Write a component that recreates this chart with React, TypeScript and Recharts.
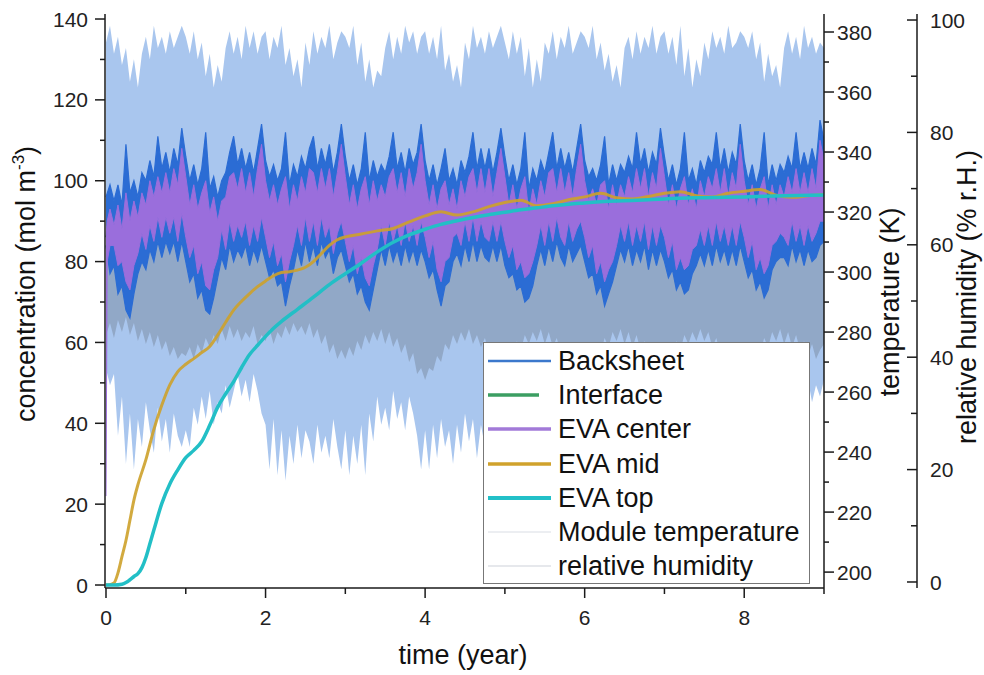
import { ComposedChart, Area, Line, XAxis, YAxis, Legend, Label } from "recharts";

const FONT = '"Liberation Sans", Arial, Helvetica, sans-serif';
const INK = "#1a1a1a";

// time grid, 0.05 year
const T = Array.from({ length: 181 }, (_, i) => Math.round(i * 5) / 100);

// Backsheet concentration band (mol m-3), low / high per time step
const BS_HI = [
  96, 99, 95, 99, 94, 109, 97, 100, 96, 102, 100, 105, 101, 111, 103, 107, 102, 108, 104, 113,
  106, 100, 104, 99, 103, 112, 98, 101, 96, 100, 102, 107, 111, 104, 108, 103, 107, 102, 108, 114,
  105, 101, 104, 100, 103, 112, 99, 104, 101, 106, 103, 108, 111, 103, 108, 104, 109, 102, 107, 114,
  106, 100, 104, 99, 103, 112, 100, 105, 101, 104, 102, 106, 112, 103, 107, 102, 108, 104, 107, 114,
  105, 100, 104, 99, 103, 108, 100, 103, 99, 105, 102, 106, 112, 103, 108, 103, 108, 102, 107, 113,
  106, 100, 104, 99, 103, 112, 98, 103, 100, 105, 102, 107, 112, 103, 108, 103, 107, 102, 108, 114,
  105, 101, 103, 100, 104, 111, 99, 104, 100, 104, 102, 106, 103, 112, 104, 108, 102, 107, 104, 113,
  106, 100, 104, 99, 103, 112, 100, 103, 99, 105, 102, 106, 104, 112, 103, 108, 102, 107, 104, 114,
  105, 100, 104, 99, 103, 112, 99, 104, 100, 104, 102, 106, 103, 112, 103, 107, 103, 108, 104, 115,
  110,
];
const BS_LO = [
  84, 77, 79, 72, 74, 68, 66, 72, 77, 80, 78, 83, 80, 85, 81, 85, 82, 85, 80, 85,
  80, 75, 77, 71, 73, 68, 67, 71, 76, 81, 78, 84, 80, 83, 81, 84, 79, 83, 80, 84,
  80, 76, 78, 74, 75, 69, 74, 78, 83, 79, 85, 80, 84, 79, 85, 81, 83, 77, 81, 83,
  79, 75, 77, 72, 74, 70, 68, 73, 78, 83, 79, 84, 80, 83, 79, 84, 80, 83, 79, 83,
  80, 76, 78, 73, 69, 74, 75, 80, 82, 79, 84, 80, 85, 80, 84, 81, 80, 84, 80, 84,
  79, 76, 77, 73, 74, 70, 71, 74, 79, 83, 79, 84, 80, 85, 81, 79, 84, 80, 82, 84,
  80, 76, 77, 72, 74, 69, 72, 75, 79, 83, 80, 84, 79, 83, 80, 84, 78, 83, 79, 83,
  80, 76, 78, 73, 75, 72, 73, 77, 79, 82, 79, 83, 79, 84, 80, 83, 79, 83, 79, 84,
  80, 76, 78, 73, 75, 71, 73, 78, 80, 81, 81, 79, 84, 80, 83, 79, 83, 80, 81, 84,
  85,
];

// EVA center band
const CT_HI = [
  86, 93, 89, 94, 88, 97, 90, 95, 91, 97, 94, 100, 96, 101, 97, 102, 97, 103, 99, 108,
  101, 94, 99, 93, 97, 100, 92, 96, 90, 95, 96, 101, 102, 98, 103, 97, 102, 96, 103, 109,
  100, 95, 99, 94, 98, 101, 93, 99, 95, 101, 97, 103, 102, 97, 103, 98, 103, 96, 102, 109,
  101, 94, 99, 93, 98, 101, 94, 100, 95, 99, 96, 101, 103, 97, 102, 96, 103, 98, 102, 109,
  100, 94, 99, 93, 98, 100, 94, 98, 93, 100, 96, 101, 103, 97, 103, 97, 103, 96, 102, 108,
  101, 94, 99, 93, 98, 101, 92, 98, 94, 100, 96, 102, 103, 97, 103, 97, 102, 96, 103, 109,
  100, 95, 98, 94, 99, 100, 93, 99, 94, 99, 96, 101, 97, 103, 98, 103, 96, 102, 98, 108,
  101, 94, 99, 93, 98, 101, 94, 98, 93, 100, 96, 101, 98, 103, 97, 103, 96, 102, 98, 109,
  100, 94, 99, 93, 98, 101, 93, 99, 94, 99, 96, 101, 97, 103, 97, 102, 97, 103, 98, 110,
  105,
];
const CT_LO = [
  22, 84, 84, 79, 80, 75, 73, 79, 82, 87, 83, 89, 85, 91, 86, 91, 87, 91, 85, 92,
  86, 81, 84, 77, 80, 74, 73, 78, 81, 88, 83, 90, 85, 89, 86, 90, 84, 89, 85, 91,
  86, 81, 85, 79, 82, 75, 80, 84, 89, 84, 91, 85, 90, 84, 91, 86, 89, 82, 87, 90,
  85, 80, 84, 77, 81, 76, 74, 79, 83, 89, 84, 90, 85, 89, 84, 90, 85, 89, 84, 90,
  86, 81, 85, 78, 75, 80, 81, 86, 87, 84, 90, 85, 91, 85, 90, 86, 85, 90, 85, 90,
  85, 81, 84, 78, 80, 76, 77, 80, 84, 89, 84, 90, 85, 91, 86, 84, 90, 85, 88, 90,
  86, 81, 84, 77, 80, 75, 78, 80, 84, 89, 85, 90, 84, 89, 85, 90, 83, 89, 84, 89,
  86, 81, 85, 78, 81, 78, 79, 83, 84, 88, 84, 89, 84, 90, 85, 89, 84, 89, 84, 90,
  86, 81, 85, 78, 81, 77, 79, 84, 85, 87, 86, 84, 90, 85, 89, 84, 89, 85, 87, 90,
  90,
];
// extra early point of the center curve (fast initial rise)
const CT_START = { t: 0.015, lo: 80, hi: 90 };

// relative humidity band (%)
const RH_HI = [
  96, 99, 94, 97, 92, 95, 89, 93, 88, 94, 97, 93, 99, 95, 97, 94, 98, 95, 97, 99,
  97, 94, 98, 93, 96, 90, 94, 88, 92, 89, 95, 98, 94, 97, 93, 99, 95, 98, 94, 97,
  98, 93, 97, 95, 99, 92, 95, 90, 93, 88, 96, 92, 98, 94, 97, 95, 99, 93, 96, 98,
  97, 95, 99, 92, 96, 89, 93, 88, 91, 90, 95, 98, 93, 97, 94, 99, 96, 98, 94, 97,
  98, 94, 97, 93, 99, 91, 94, 89, 92, 88, 96, 93, 99, 95, 97, 94, 98, 95, 97, 99,
  96, 93, 98, 94, 97, 90, 95, 88, 93, 89, 96, 94, 98, 93, 97, 95, 99, 94, 96, 98,
  97, 95, 99, 93, 96, 91, 94, 89, 92, 88, 95, 97, 93, 98, 94, 97, 95, 99, 94, 97,
  98, 94, 97, 92, 99, 90, 95, 88, 93, 90, 96, 93, 98, 95, 97, 94, 99, 95, 96, 98,
  97, 95, 98, 93, 96, 89, 94, 90, 92, 88, 95, 98, 94, 97, 93, 99, 95, 97, 94, 96,
  95,
];
const RH_LO = [
  38, 35, 37, 26, 33, 21, 30, 20, 29, 24, 32, 27, 23, 31, 25, 29, 23, 30, 26, 24,
  27, 24, 31, 28, 33, 29, 34, 28, 32, 30, 35, 31, 34, 37, 33, 36, 32, 37, 34, 30,
  28, 20, 29, 19, 27, 18, 26, 21, 28, 22, 27, 25, 21, 28, 23, 26, 22, 29, 24, 20,
  27, 19, 26, 21, 28, 19, 30, 25, 33, 28, 31, 27, 34, 29, 32, 27, 33, 30, 26, 20,
  27, 20, 28, 22, 29, 24, 27, 21, 28, 23, 30, 25, 29, 22, 28, 24, 30, 26, 25, 22,
  28, 21, 29, 20, 27, 23, 31, 26, 33, 28, 32, 27, 34, 29, 31, 26, 33, 28, 27, 22,
  27, 22, 28, 19, 26, 21, 29, 24, 32, 27, 31, 26, 33, 28, 30, 25, 32, 29, 26, 21,
  28, 21, 27, 20, 29, 22, 30, 25, 32, 28, 33, 27, 31, 29, 34, 26, 32, 28, 27, 23,
  27, 22, 29, 21, 28, 23, 31, 27, 33, 29, 32, 28, 34, 30, 33, 31, 36, 32, 35, 33,
  36,
];

// module temperature band (K)
const TEMP_HI = [
  320, 318, 321, 317, 320, 316, 319, 317, 321, 319, 323, 320, 324, 321, 325, 322, 326, 323, 327, 334,
  322, 317, 320, 316, 319, 315, 318, 316, 320, 318, 322, 319, 323, 320, 324, 321, 325, 322, 326, 335,
  321, 318, 320, 317, 320, 316, 319, 316, 321, 318, 323, 320, 324, 320, 325, 322, 326, 323, 327, 334,
  322, 317, 321, 316, 319, 315, 318, 317, 320, 319, 322, 320, 323, 321, 324, 322, 325, 322, 326, 335,
  321, 318, 320, 316, 320, 316, 319, 316, 321, 318, 322, 319, 324, 320, 325, 321, 326, 323, 327, 334,
  322, 317, 321, 317, 319, 315, 318, 317, 320, 318, 323, 320, 323, 321, 324, 322, 325, 322, 326, 335,
  321, 318, 320, 316, 320, 316, 319, 316, 321, 319, 322, 320, 324, 320, 325, 321, 326, 323, 327, 334,
  322, 317, 321, 317, 319, 315, 318, 317, 320, 318, 323, 319, 323, 321, 324, 322, 325, 322, 326, 335,
  321, 318, 320, 316, 320, 316, 319, 316, 321, 319, 322, 320, 324, 320, 325, 321, 326, 323, 327, 334,
  325,
];
const TEMP_LO = [
  279, 283, 278, 284, 280, 285, 279, 283, 277, 281, 276, 280, 275, 279, 274, 277, 272, 275, 271, 273,
  272, 275, 271, 276, 273, 278, 275, 279, 276, 281, 277, 282, 278, 281, 277, 280, 278, 282, 276, 279,
  277, 281, 276, 280, 278, 282, 279, 283, 280, 282, 279, 283, 278, 281, 276, 279, 273, 276, 271, 274,
  271, 275, 272, 277, 274, 279, 276, 280, 277, 281, 276, 280, 275, 278, 273, 276, 270, 273, 266, 268,
  264, 268, 267, 272, 270, 276, 274, 279, 276, 280, 277, 281, 276, 279, 275, 278, 273, 276, 270, 272,
  271, 275, 272, 277, 274, 279, 276, 280, 277, 281, 276, 280, 275, 278, 273, 276, 271, 274, 268, 270,
  269, 273, 271, 276, 273, 278, 275, 280, 277, 281, 276, 280, 275, 279, 274, 277, 272, 275, 269, 271,
  270, 274, 272, 277, 274, 279, 276, 280, 277, 281, 277, 280, 275, 278, 273, 276, 271, 274, 268, 270,
  270, 274, 271, 276, 273, 278, 275, 280, 277, 281, 276, 280, 275, 279, 274, 277, 272, 276, 271, 274,
  276,
];

// interface (lies under the backsheet band, not visible)
const INTERFACE_T = [0, 0.5, 1, 1.5, 2, 2.5, 3, 3.5, 4, 4.5, 5, 5.5, 6, 6.5, 7, 7.5, 8, 8.5, 9];
const INTERFACE = [86, 90, 89, 92, 90, 93, 92, 93, 92, 94, 92, 94, 92, 94, 92, 94, 92, 94, 93];

// EVA mid
const MID_T = [
  0, 0.05, 0.1, 0.15, 0.2, 0.25, 0.3, 0.35, 0.4, 0.5, 0.6, 0.7, 0.8, 0.9, 1.0, 1.1, 1.2, 1.3, 1.4,
  1.5, 1.6, 1.7, 1.8, 1.9, 2.0, 2.1, 2.2, 2.3, 2.4, 2.5, 2.6, 2.7, 2.8, 2.9, 3.0, 3.2, 3.4, 3.6,
  3.8, 4.0, 4.2, 4.4, 4.6, 4.8, 5.0, 5.2, 5.4, 5.6, 5.8, 6.0, 6.2, 6.4, 6.6, 6.8, 7.0, 7.2, 7.4,
  7.6, 7.8, 8.0, 8.2, 8.4, 8.6, 8.8, 9.0,
];
const MID = [
  0, 0.1, 0.5, 3, 7, 11, 16, 21, 24.8, 31, 38.5, 44.5, 49.5, 52.8, 54.6, 56, 57.5, 59, 61.8,
  65, 68, 70.2, 72.1, 73.8, 75.2, 76.5, 77.3, 77.5, 77.9, 78.6, 80, 82, 84, 85.4, 86.1, 86.8, 87.6, 88.2,
  89.8, 91.3, 92.3, 91.5, 92.3, 93.6, 94.6, 95.2, 93.8, 94.3, 95.3, 96, 96.9, 95.8, 95.5, 96.1, 96.9, 97.3, 96.3,
  96, 96.9, 97.4, 97.8, 96.4, 95.9, 96.3, 96.6,
];

// EVA top
const TOP_T = [
  0, 0.1, 0.2, 0.25, 0.3, 0.35, 0.4, 0.45, 0.5, 0.55, 0.6, 0.7, 0.8, 0.9, 1.0, 1.1, 1.2, 1.3, 1.4,
  1.5, 1.6, 1.7, 1.8, 1.9, 2.0, 2.1, 2.2, 2.4, 2.6, 2.8, 3.0, 3.2, 3.4, 3.6, 3.8, 4.0, 4.2, 4.4,
  4.6, 4.8, 5.0, 5.2, 5.4, 5.6, 5.8, 6.0, 6.2, 6.4, 6.6, 6.8, 7.0, 7.5, 8.0, 8.5, 9.0,
];
const TOP = [
  0, 0, 0.2, 0.6, 1.3, 2.1, 2.8, 4.3, 6.8, 10.2, 13.6, 20.2, 25, 28.5, 31.5, 33.3, 35.5, 39.5, 44,
  47.3, 50.3, 53.8, 57, 59.3, 61.5, 63.5, 65.2, 68.2, 71.2, 74.3, 77, 79.6, 82.4, 84.8, 86.6, 88, 89.2, 90.1,
  90.9, 91.6, 92.2, 92.8, 93.3, 93.8, 94.2, 94.5, 94.8, 95, 95.1, 95.3, 95.5, 95.8, 96, 96.3, 96.5,
];

// ticks
const X_TICKS = [0, 1, 2, 3, 4, 5, 6, 7, 8, 9];
const C_TICKS = [0, 10, 20, 30, 40, 50, 60, 70, 80, 90, 100, 110, 120, 130, 140];
const TEMP_TICKS = [200, 210, 220, 230, 240, 250, 260, 270, 280, 290, 300, 310, 320, 330, 340, 350, 360, 370, 380];
const RH_TICKS = [0, 10, 20, 30, 40, 50, 60, 70, 80, 90, 100];

const LEGEND = [
  { name: "Backsheet", color: "#3b78cc", width: 2.5, len: 67 },
  { name: "Interface", color: "#3b9e62", width: 3.5, len: 55 },
  { name: "EVA center", color: "#a27ad8", width: 3.5, len: 67 },
  { name: "EVA mid", color: "#d0a22c", width: 3.5, len: 67 },
  { name: "EVA top", color: "#22c0c8", width: 4, len: 67 },
  { name: "Module temperature", color: "#d9dde4", width: 1, len: 67 },
  { name: "relative humidity", color: "#cdd1d9", width: 1, len: 67 },
];

const band = (lo: number[], hi: number[]) => T.map((t, i) => ({ t, v: [lo[i], hi[i]] }));
const rhData = band(RH_LO, RH_HI);
const tempData = band(TEMP_LO, TEMP_HI);
const bsData = band(BS_LO, BS_HI);
const ctData = [
  { t: 0, v: [CT_LO[0], CT_HI[0]] },
  { t: CT_START.t, v: [CT_START.lo, CT_START.hi] },
  ...T.slice(1).map((t, k) => ({ t, v: [CT_LO[k + 1], CT_HI[k + 1]] })),
];
const ifData = INTERFACE_T.map((t, i) => ({ t, v: [INTERFACE[i], INTERFACE[i]] }));
const midData = MID_T.map((t, i) => ({ t, v: MID[i] }));
const topData = TOP_T.map((t, i) => ({ t, v: TOP[i] }));

type Kind = "left" | "bottom" | "temp" | "rh";

const makeTick = (kind: Kind, step: number) => (props: any) => {
  const { x, y, payload } = props;
  const v = payload.value as number;
  const major = Math.abs(v / step - Math.round(v / step)) < 1e-6;
  const L = major ? 10 : 5;
  const txt = { fontSize: 21, fontFamily: FONT, fill: "#222" };
  if (kind === "left")
    return (
      <g>
        <line x1={x - L} x2={x} y1={y} y2={y} stroke={INK} strokeWidth={1.5} />
        {major && <text x={x - 17} y={y} dy="0.36em" textAnchor="end" {...txt}>{v}</text>}
      </g>
    );
  if (kind === "bottom")
    return (
      <g>
        <line x1={x} x2={x} y1={y} y2={y + (major ? 10 : 6)} stroke={INK} strokeWidth={1.5} />
        {major && <text x={x} y={y + 37} textAnchor="middle" {...txt}>{v}</text>}
      </g>
    );
  if (kind === "temp")
    return (
      <g>
        <line x1={x} x2={x + L} y1={y} y2={y} stroke={INK} strokeWidth={1.5} />
        {major && <text x={x + 13} y={y} dy="0.36em" textAnchor="start" {...txt}>{v}</text>}
      </g>
    );
  return (
    <g>
      <line x1={x - (major ? 10 : 6)} x2={x} y1={y} y2={y} stroke={INK} strokeWidth={1.5} />
      {major && <text x={x + 13} y={y} dy="0.36em" textAnchor="start" {...txt}>{v}</text>}
    </g>
  );
};

const titleStyle = { fontSize: 27, fontFamily: FONT, fill: "#111" };

function LegendBox() {
  return (
    <div
      style={{
        width: 325,
        height: 240,
        background: "#fff",
        border: "1px solid #777",
        position: "relative",
        fontFamily: FONT,
        fontSize: 27,
        color: "#111",
      }}
    >
      {LEGEND.map((it, i) => (
        <div key={it.name} style={{ position: "absolute", left: 0, top: 1 + i * 34.2, height: 34, width: "100%" }}>
          <svg width={72} height={34} style={{ position: "absolute", left: 0, top: 0 }}>
            <line x1={4} x2={it.len} y1={17} y2={17} stroke={it.color} strokeWidth={it.width} />
          </svg>
          <span style={{ position: "absolute", left: 74, top: 0, lineHeight: "34px", whiteSpace: "nowrap" }}>
            {it.name}
          </span>
        </div>
      ))}
    </div>
  );
}

export default function App() {
  return (
    <div style={{ position: "absolute", left: 0, top: 0, width: 984, height: 675, background: "#fff" }}>
      <ComposedChart width={984} height={675} margin={{ top: 14, right: 0, bottom: 0, left: 0 }}>
        <XAxis
          xAxisId="b"
          type="number"
          dataKey="t"
          domain={[-0.0125, 9]}
          allowDataOverflow
          ticks={X_TICKS}
          interval={0}
          height={87}
          tickSize={0}
          tickMargin={0}
          tickLine={false}
          tick={makeTick("bottom", 2)}
          axisLine={{ stroke: INK, strokeWidth: 1.5 }}
        >
          <Label
            content={() => (
              <text x={463} y={664} textAnchor="middle" {...titleStyle}>
                time (year)
              </text>
            )}
          />
        </XAxis>
        <XAxis
          xAxisId="top"
          orientation="top"
          type="number"
          dataKey="t"
          domain={[-0.0125, 9]}
          allowDataOverflow
          height={0}
          tick={false}
          tickLine={false}
          axisLine={{ stroke: INK, strokeWidth: 1.5 }}
        />
        <YAxis
          yAxisId="c"
          orientation="left"
          type="number"
          domain={[-0.74, 141.24]}
          allowDataOverflow
          ticks={C_TICKS}
          interval={0}
          width={105}
          tickSize={0}
          tickMargin={0}
          tickLine={false}
          tick={makeTick("left", 20)}
          axisLine={{ stroke: INK, strokeWidth: 1.5 }}
        >
          <Label
            content={() => (
              <text x={35} y={284} transform="rotate(-90 35 284)" textAnchor="middle" {...titleStyle}>
                concentration (mol m<tspan dy={-11} fontSize={17}>-3</tspan>
                <tspan dy={11}>)</tspan>
              </text>
            )}
          />
        </YAxis>
        <YAxis
          yAxisId="r1"
          orientation="right"
          type="number"
          domain={[194.7, 386]}
          allowDataOverflow
          ticks={TEMP_TICKS}
          interval={0}
          width={93}
          tickSize={0}
          tickMargin={0}
          tickLine={false}
          tick={makeTick("temp", 20)}
          axisLine={{ stroke: INK, strokeWidth: 1.5 }}
        >
          <Label
            content={() => (
              <text x={899} y={302} transform="rotate(-90 899 302)" textAnchor="middle" {...titleStyle}>
                temperature (K)
              </text>
            )}
          />
        </YAxis>
        <YAxis
          yAxisId="r2"
          orientation="right"
          type="number"
          domain={[-1.07, 101.07]}
          allowDataOverflow
          ticks={RH_TICKS}
          interval={0}
          width={67}
          tickSize={0}
          tickMargin={0}
          tickLine={false}
          tick={makeTick("rh", 20)}
          axisLine={{ stroke: INK, strokeWidth: 1.5 }}
        >
          <Label
            content={() => (
              <text x={976} y={297} transform="rotate(-90 976 297)" textAnchor="middle" {...titleStyle}>
                relative humidity (% r.H.)
              </text>
            )}
          />
        </YAxis>

        <Area
          data={rhData}
          dataKey="v"
          xAxisId="b"
          yAxisId="r2"
          type="linear"
          stroke="none"
          fill="#a9c6ee"
          fillOpacity={1}
          isAnimationActive={false}
          activeDot={false}
          name="relative humidity"
        />
        <Area
          data={tempData}
          dataKey="v"
          xAxisId="b"
          yAxisId="r1"
          type="linear"
          stroke="none"
          fill="#6f7a8c"
          fillOpacity={0.4}
          isAnimationActive={false}
          activeDot={false}
          name="Module temperature"
        />
        <Area
          data={ifData}
          dataKey="v"
          xAxisId="b"
          yAxisId="c"
          type="monotone"
          stroke="#3b9e62"
          strokeWidth={3}
          fill="none"
          isAnimationActive={false}
          activeDot={false}
          name="Interface"
        />
        <Area
          data={bsData}
          dataKey="v"
          xAxisId="b"
          yAxisId="c"
          type="linear"
          stroke="#2b6cd4"
          strokeWidth={1.2}
          fill="#2b6cd4"
          fillOpacity={1}
          isAnimationActive={false}
          activeDot={false}
          name="Backsheet"
        />
        <Area
          data={ctData}
          dataKey="v"
          xAxisId="b"
          yAxisId="c"
          type="linear"
          stroke="#9a6edc"
          strokeWidth={1}
          fill="#9a6edc"
          fillOpacity={1}
          isAnimationActive={false}
          activeDot={false}
          name="EVA center"
        />
        <Line
          data={midData}
          dataKey="v"
          xAxisId="b"
          yAxisId="c"
          type="monotone"
          stroke="#cda12a"
          strokeOpacity={0.9}
          strokeWidth={3}
          dot={false}
          activeDot={false}
          isAnimationActive={false}
          name="EVA mid"
        />
        <Line
          data={topData}
          dataKey="v"
          xAxisId="b"
          yAxisId="c"
          type="monotone"
          stroke="#22bfc6"
          strokeWidth={3.5}
          dot={false}
          activeDot={false}
          isAnimationActive={false}
          name="EVA top"
        />
        <Legend
          content={() => <LegendBox />}
          layout="vertical"
          align="center"
          verticalAlign="middle"
          wrapperStyle={{ left: 483, top: 342, width: 327, height: 242 }}
        />
      </ComposedChart>
    </div>
  );
}
